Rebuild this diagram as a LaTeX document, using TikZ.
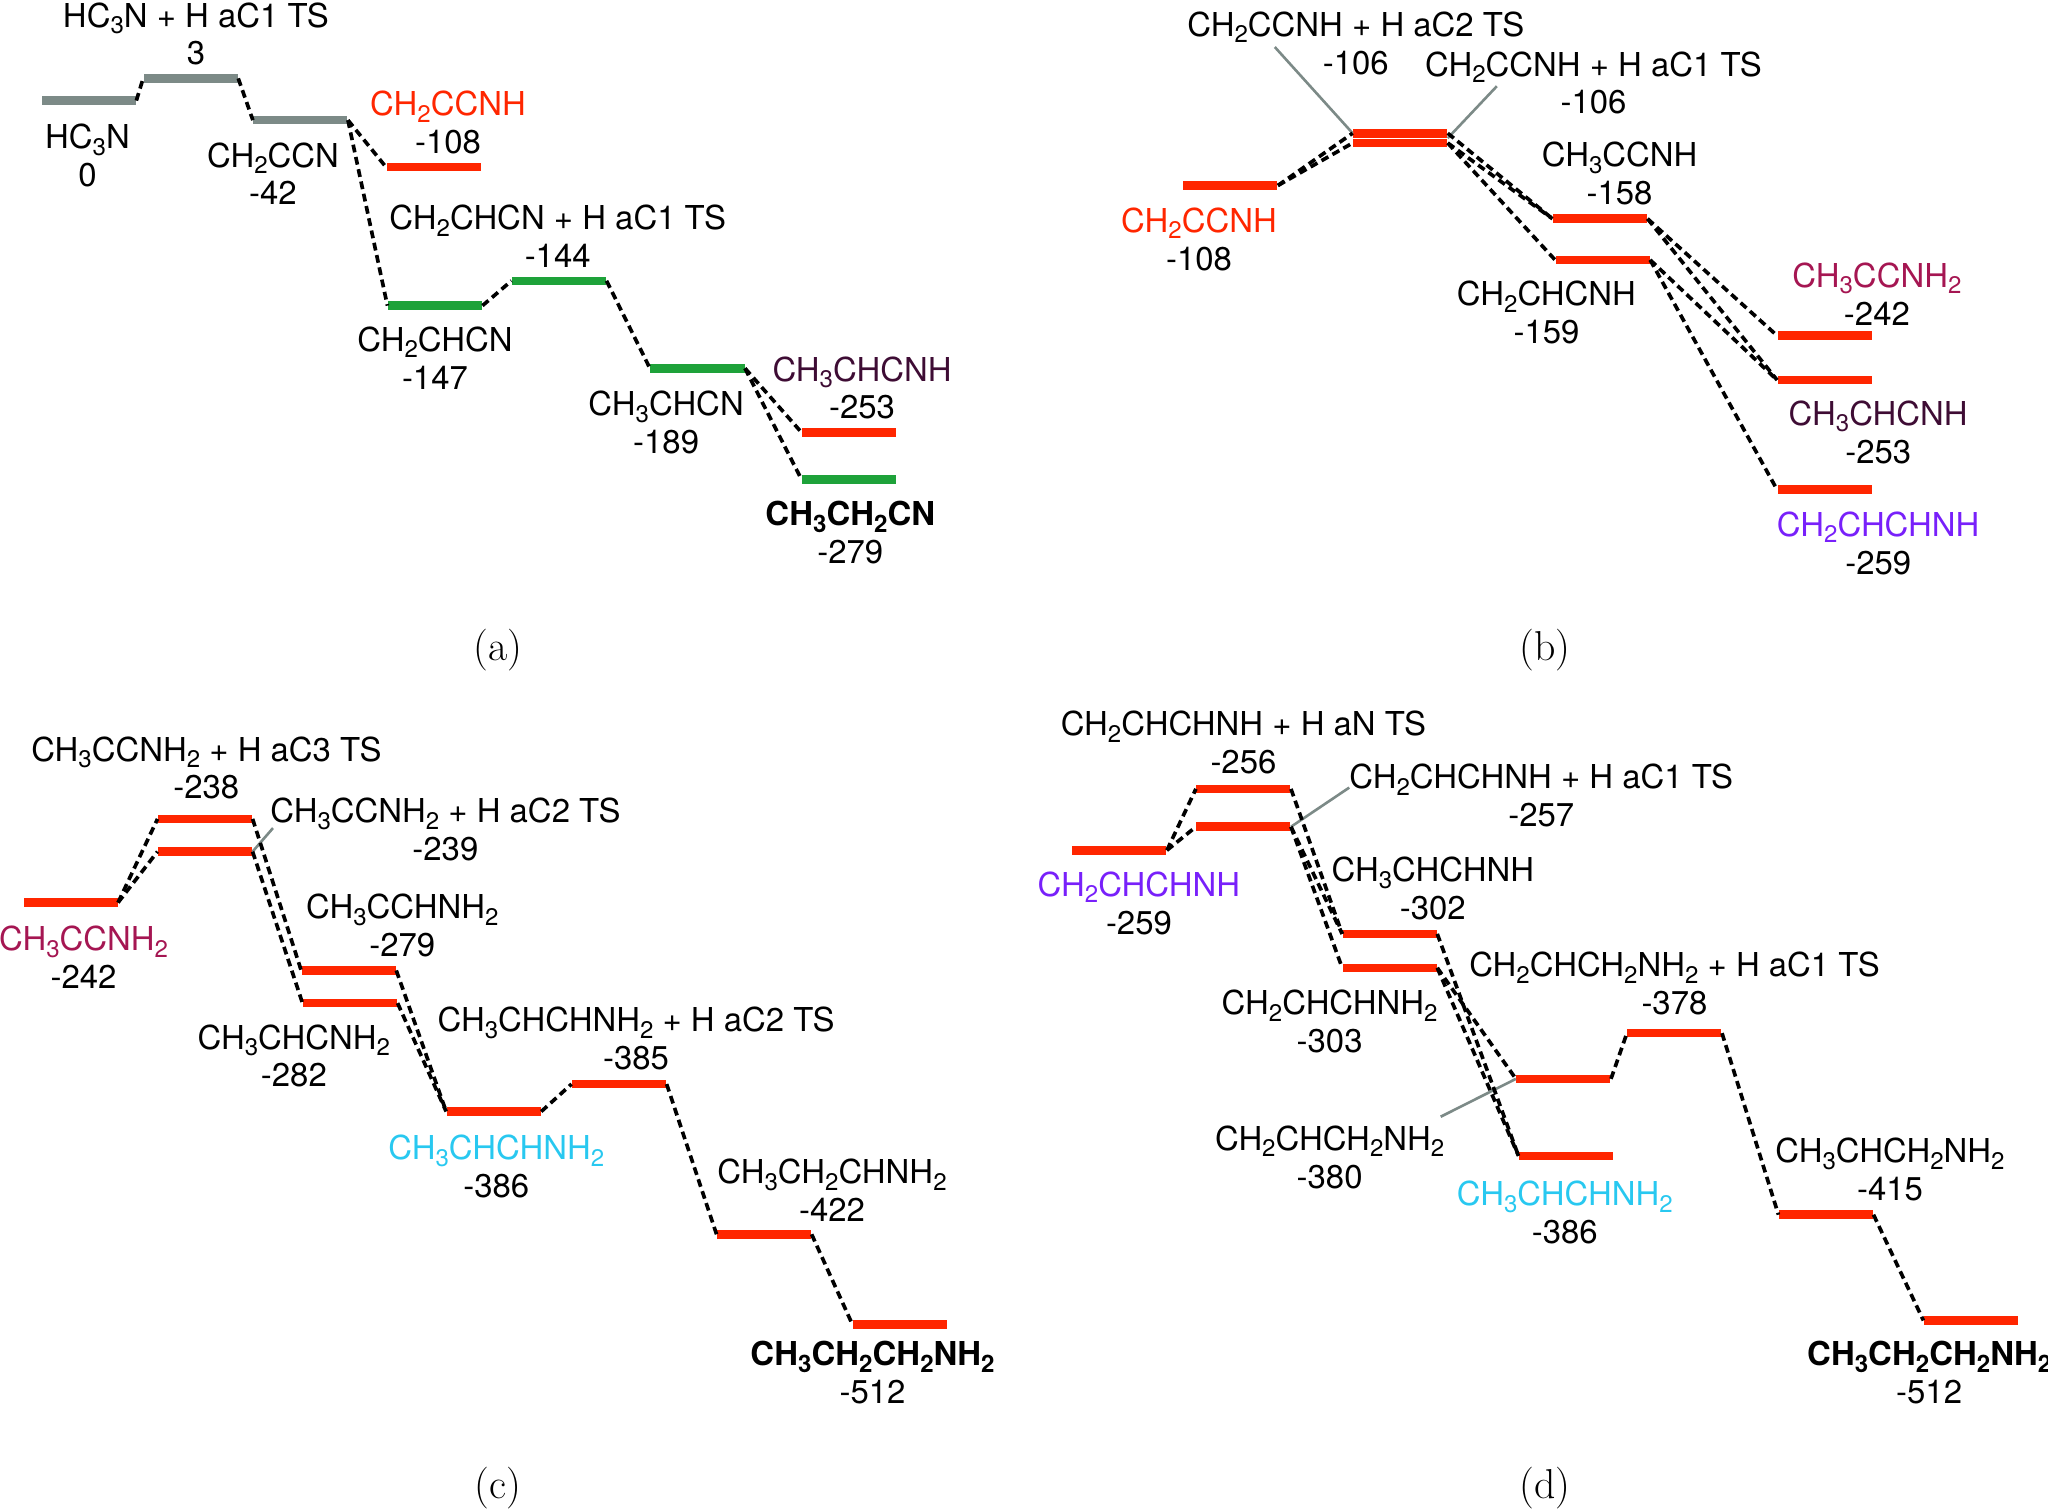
\documentclass[tikz,border=0pt]{standalone}
\usepackage{fontspec}
\newfontfamily\hv{TeX Gyre Heros}
\definecolor{barred}{RGB}{255,38,0}
\definecolor{bargray}{RGB}{124,138,135}
\definecolor{bargreen}{RGB}{30,162,58}
\definecolor{dkpurple}{RGB}{62,12,52}
\definecolor{magent}{RGB}{165,22,82}
\definecolor{violettwo}{RGB}{120,32,250}
\definecolor{cyantwo}{RGB}{40,200,240}
\newcommand\sbs[1]{\raisebox{-2.5pt}{\fontsize{9.2}{9.2}\selectfont #1}}
\tikzset{
 lvl/.style={rectangle, inner sep=0pt, minimum width=36pt, minimum height=3.3pt, fill=#1},
 lvl/.default=barred,
 lab/.style={align=center, inner sep=0pt, font=\hv\fontsize{12.6}{14.5}\selectfont},
 conn/.style={draw=black, line width=1.4pt, dash pattern=on 3pt off 1.8pt},
 lead/.style={draw=bargray, line width=1pt},
 panel/.style={font=\fontsize{16}{18}\selectfont, inner sep=0pt}
}
\begin{document}
\begin{tikzpicture}[x=0.5pt, y=-0.5pt]
\useasboundingbox (0,0) rectangle (1568,1155);
% ---------------- (a)
\node[lvl=bargray] (a1) at (68,77) {};
\node[lvl=bargray] (a2) at (146,60) {};
\node[lvl=bargray] (a3) at (230,92) {};
\node[lvl] (a4) at (332,128) {};
\node[lvl=bargreen] (a5) at (333,234) {};
\node[lvl=bargreen] (a6) at (428,215) {};
\node[lvl=bargreen] (a7) at (534,282) {};
\node[lvl] (a8) at (650,331) {};
\node[lvl=bargreen] (a9) at (650,367) {};
\node[lab] (ta2) at (150,26) {HC\sbs{3}N + H aC1 TS\\3};
\node[lab] (ta1) at (67,119) {HC\sbs{3}N\\0};
\node[lab] (ta3) at (209,133) {CH\sbs{2}CCN\\-42};
\node[lab] (ta4) at (343,94) {{\color{barred}CH\sbs{2}CCNH}\\-108};
\node[lab] (ta6) at (427,181) {CH\sbs{2}CHCN + H aC1 TS\\-144};
\node[lab] (ta5) at (333,274) {CH\sbs{2}CHCN\\-147};
\node[lab] (ta7) at (510,323.5) {CH\sbs{3}CHCN\\-189};
\node[lab] (ta8) at (660,297) {{\color{dkpurple}CH\sbs{3}CHCNH}\\-253};
\node[lab] (ta9) at (651,408) {{\bfseries CH\sbs{3}CH\sbs{2}CN}\\-279};
\node[panel] (pa) at (381,498) {(a)};
\draw[conn] (a1.east) -- (a2.west);
\draw[conn] (a2.east) -- (a3.west);
\draw[conn] (a3.east) -- (a4.west);
\draw[conn] (a3.east) -- (a5.west);
\draw[conn] (a5.east) -- (a6.west);
\draw[conn] (a6.east) -- (a7.west);
\draw[conn] (a7.east) -- (a8.west);
\draw[conn] (a7.east) -- (a9.west);
% ---------------- (b)
\node[lvl] (b1) at (942,142) {};
\node[lvl] (b2) at (1072,102) {};
\node[lvl] (b3) at (1072,109.5) {};
\node[lvl] (b4) at (1225,167.5) {};
\node[lvl] (b5) at (1227,199) {};
\node[lvl] (b6) at (1397,257) {};
\node[lvl] (b7) at (1397,291) {};
\node[lvl] (b8) at (1397,375) {};
\node[lab] (tb2) at (1038,33) {CH\sbs{2}CCNH + H aC2 TS\\-106};
\node[lab] (tb3) at (1220,63.5) {CH\sbs{2}CCNH + H aC1 TS\\-106};
\node[lab] (tb1) at (918,183) {{\color{barred}CH\sbs{2}CCNH}\\-108};
\node[lab] (tb4) at (1240,133) {CH\sbs{3}CCNH\\-158};
\node[lab] (tb5) at (1184,239.5) {CH\sbs{2}CHCNH\\-159};
\node[lab] (tb6) at (1437,225) {{\color{magent}CH\sbs{3}CCNH\sbs{2}}\\-242};
\node[lab] (tb7) at (1438,331) {{\color{dkpurple}CH\sbs{3}CHCNH}\\-253};
\node[lab] (tb8) at (1438,416) {{\color{violettwo}CH\sbs{2}CHCHNH}\\-259};
\node[panel] (pb) at (1183,498) {(b)};
\coordinate (lb2) at (976,36);
\coordinate (lb3) at (1146,66);
\draw[lead] (lb2) -- (b2.west);
\draw[lead] (lb3) -- (b3.north east);
\draw[conn] (b1.east) -- (b2.west);
\draw[conn] (b1.east) -- (b3.west);
\draw[conn] (b2.east) -- (b4.west);
\draw[conn] (b3.east) -- (b4.west);
\draw[conn] (b3.east) -- (b5.west);
\draw[conn] (b4.east) -- (b6.west);
\draw[conn] (b4.east) -- (b7.west);
\draw[conn] (b5.east) -- (b7.west);
\draw[conn] (b5.east) -- (b8.west);
% ---------------- (c)
\node[lvl] (c1) at (54,691) {};
\node[lvl] (c2) at (157,627) {};
\node[lvl] (c3) at (157,652) {};
\node[lvl] (c4) at (267,743) {};
\node[lvl] (c5) at (268,768) {};
\node[lvl] (c6) at (378,851) {};
\node[lvl] (c7) at (474,830) {};
\node[lvl] (c8) at (585,945) {};
\node[lvl] (c9) at (689,1014) {};
\node[lab] (tc2) at (158,588) {CH\sbs{3}CCNH\sbs{2} + H aC3 TS\\-238};
\node[lab] (tc3) at (341,635) {CH\sbs{3}CCNH\sbs{2} + H aC2 TS\\-239};
\node[lab] (tc1) at (64,733) {{\color{magent}CH\sbs{3}CCNH\sbs{2}}\\-242};
\node[lab] (tc4) at (308,708.5) {CH\sbs{3}CCHNH\sbs{2}\\-279};
\node[lab] (tc5) at (225,808.5) {CH\sbs{3}CHCNH\sbs{2}\\-282};
\node[lab] (tc7) at (487,795) {CH\sbs{3}CHCHNH\sbs{2} + H aC2 TS\\-385};
\node[lab] (tc6) at (380,893) {{\color{cyantwo}CH\sbs{3}CHCHNH\sbs{2}}\\-386};
\node[lab] (tc8) at (637,911.5) {CH\sbs{3}CH\sbs{2}CHNH\sbs{2}\\-422};
\node[lab] (tc9) at (668,1051) {{\bfseries CH\sbs{3}CH\sbs{2}CH\sbs{2}NH\sbs{2}}\\-512};
\node[panel] (pc) at (381,1139) {(c)};
\coordinate (lc3) at (209,634);
\draw[lead] (c3.east) -- (lc3);
\draw[conn] (c1.east) -- (c2.west);
\draw[conn] (c1.east) -- (c3.west);
\draw[conn] (c2.east) -- (c4.west);
\draw[conn] (c3.east) -- (c5.west);
\draw[conn] (c4.east) -- (c6.west);
\draw[conn] (c5.east) -- (c6.west);
\draw[conn] (c6.east) -- (c7.west);
\draw[conn] (c7.east) -- (c8.west);
\draw[conn] (c8.east) -- (c9.west);
% ---------------- (d)
\node[lvl] (d1) at (857,651) {};
\node[lvl] (d2) at (952,604) {};
\node[lvl] (d3) at (952,633) {};
\node[lvl] (d4) at (1064,715) {};
\node[lvl] (d5) at (1064,741) {};
\node[lvl] (d6) at (1197,826) {};
\node[lvl] (d7) at (1199,885) {};
\node[lvl] (d8) at (1282,791) {};
\node[lvl] (d9) at (1398,930) {};
\node[lvl] (d10) at (1509,1011) {};
\node[lab] (td2) at (952,568.5) {CH\sbs{2}CHCHNH + H aN TS\\-256};
\node[lab] (td3) at (1180,609) {CH\sbs{2}CHCHNH + H aC1 TS\\-257};
\node[lab] (td1) at (872,691.5) {{\color{violettwo}CH\sbs{2}CHCHNH}\\-259};
\node[lab] (td4) at (1097,680.5) {CH\sbs{3}CHCHNH\\-302};
\node[lab] (td5) at (1018,782) {CH\sbs{2}CHCHNH\sbs{2}\\-303};
\node[lab] (td8) at (1282,753) {CH\sbs{2}CHCH\sbs{2}NH\sbs{2} + H aC1 TS\\-378};
\node[lab] (td6) at (1018,886) {CH\sbs{2}CHCH\sbs{2}NH\sbs{2}\\-380};
\node[lab] (td7) at (1198,928.5) {{\color{cyantwo}CH\sbs{3}CHCHNH\sbs{2}}\\-386};
\node[lab] (td9) at (1447,895.5) {CH\sbs{3}CHCH\sbs{2}NH\sbs{2}\\-415};
\node[lab] (td10) at (1477,1051) {{\bfseries CH\sbs{3}CH\sbs{2}CH\sbs{2}NH\sbs{2}}\\-512};
\node[panel] (pd) at (1183,1139) {(d)};
\coordinate (ld3) at (1033,603);
\coordinate (ld6) at (1103,855);
\draw[lead] (d3.east) -- (ld3);
\draw[lead] (ld6) -- (d6.west);
\draw[conn] (d1.east) -- (d2.west);
\draw[conn] (d1.east) -- (d3.west);
\draw[conn] (d2.east) -- (d4.west);
\draw[conn] (d3.east) -- (d4.west);
\draw[conn] (d3.east) -- (d5.west);
\draw[conn] (d4.east) -- (d7.west);
\draw[conn] (d5.east) -- (d6.west);
\draw[conn] (d5.east) -- (d7.west);
\draw[conn] (d6.east) -- (d8.west);
\draw[conn] (d8.east) -- (d9.west);
\draw[conn] (d9.east) -- (d10.west);
\end{tikzpicture}
\end{document}
